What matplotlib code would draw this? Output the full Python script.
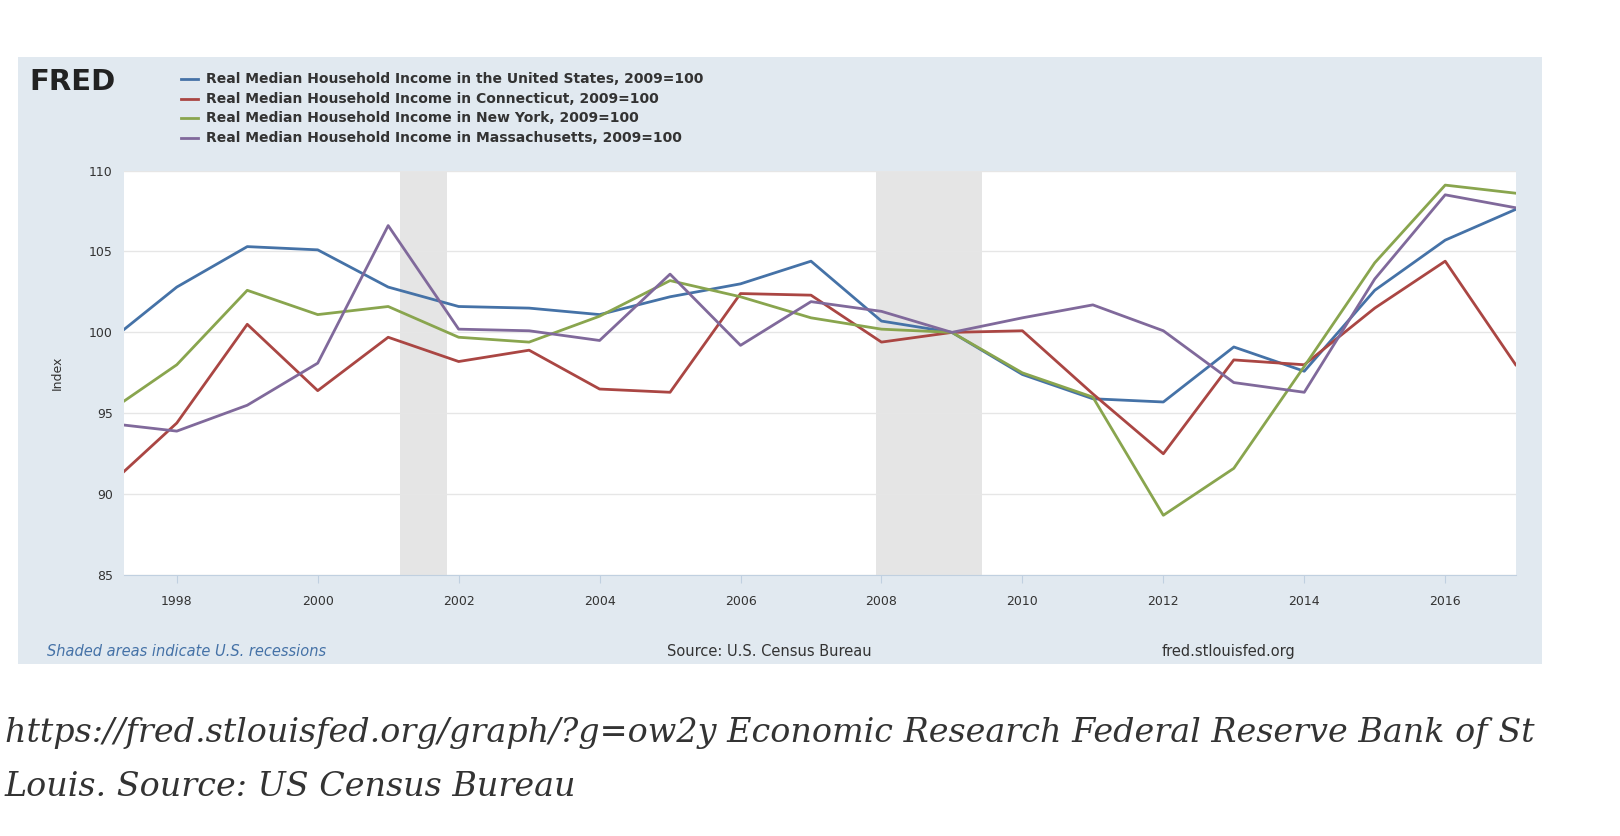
import matplotlib
matplotlib.use("Agg")
import matplotlib.pyplot as plt
from matplotlib.patches import Rectangle

years = list(range(1997, 2018))
us = [99.3, 102.8, 105.3, 105.1, 102.8, 101.6, 101.5, 101.1, 102.2, 103.0, 104.4,
      100.7, 100.0, 97.4, 95.9, 95.7, 99.1, 97.6, 102.6, 105.7, 107.6]
ct = [90.4, 94.4, 100.5, 96.4, 99.7, 98.2, 98.9, 96.5, 96.3, 102.4, 102.3,
      99.4, 100.0, 100.1, 96.2, 92.5, 98.3, 98.0, 101.5, 104.4, 98.0]
ny = [95.0, 98.0, 102.6, 101.1, 101.6, 99.7, 99.4, 101.0, 103.2, 102.2, 100.9,
      100.2, 100.0, 97.5, 96.0, 88.7, 91.6, 97.9, 104.3, 109.1, 108.6]
ma = [94.4, 93.9, 95.5, 98.1, 106.6, 100.2, 100.1, 99.5, 103.6, 99.2, 101.9,
      101.3, 100.0, 100.9, 101.7, 100.1, 96.9, 96.3, 103.3, 108.5, 107.7]
series = [
    ("Real Median Household Income in the United States, 2009=100", us, "#4572a7"),
    ("Real Median Household Income in Connecticut, 2009=100", ct, "#aa4643"),
    ("Real Median Household Income in New York, 2009=100", ny, "#89a54e"),
    ("Real Median Household Income in Massachusetts, 2009=100", ma, "#80699b"),
]
recessions = [(2001.17, 2001.83), (2007.92, 2009.42)]

fig = plt.figure(figsize=(16.2, 8.36), dpi=100)
fig.patch.set_facecolor("white")
fig.patches.append(Rectangle((0.011, 0.206), 0.941, 0.726, transform=fig.transFigure,
                             facecolor="#e1e9f0", edgecolor="none", zorder=-5))

ax = fig.add_axes([0.0765, 0.312, 0.8591, 0.484])
ax.set_zorder(5)
ax.set_facecolor("white")
for a, b in recessions:
    ax.axvspan(a, b, color="#e5e5e5", lw=0, zorder=1)
for name, vals, c in series:
    ax.plot(years, vals, color=c, lw=2, zorder=3)
ax.set_xlim(1997.25, 2017.0)
ax.set_ylim(85, 110)
ax.set_xticks(range(1998, 2017, 2))
ax.set_yticks(range(85, 111, 5))
ax.grid(axis="y", color="#e6e6e6", lw=1, zorder=0)
for s in ax.spines.values():
    s.set_visible(False)
ax.spines["bottom"].set_visible(True)
ax.spines["bottom"].set_color("#c0d0e0")
ax.tick_params(axis="both", labelsize=9, colors="#333333", length=0, pad=8)
ax.tick_params(axis="x", length=6, color="#c0d0e0", direction="out")
ax.set_ylabel("Index", fontsize=9, color="#333333", labelpad=18)

fig.text(0.018, 0.902, "FRED", fontsize=21, fontweight="bold", color="#222222", va="center")
for i, (name, vals, c) in enumerate(series):
    y = 0.905 - i * 0.0233
    fig.add_artist(plt.Line2D([0.112, 0.122], [y, y], color=c, lw=2, transform=fig.transFigure))
    fig.text(0.127, y, name, fontsize=10, fontweight="bold", color="#333333", va="center")

fig.text(0.029, 0.221, "Shaded areas indicate U.S. recessions", fontsize=10.5,
         style="italic", color="#4572a7", va="center")
fig.text(0.412, 0.221, "Source: U.S. Census Bureau", fontsize=10.5, color="#333333", va="center")
fig.text(0.717, 0.221, "fred.stlouisfed.org", fontsize=10.5, color="#333333", va="center")

fig.text(0.003, 0.123, "https://fred.stlouisfed.org/graph/?g=ow2y Economic Research Federal Reserve Bank of St",
         fontsize=24, style="italic", family="DejaVu Serif", color="#333333", va="center")
fig.text(0.003, 0.059, "Louis. Source: US Census Bureau",
         fontsize=24, style="italic", family="DejaVu Serif", color="#333333", va="center")

fig.savefig("out.png", dpi=100)
